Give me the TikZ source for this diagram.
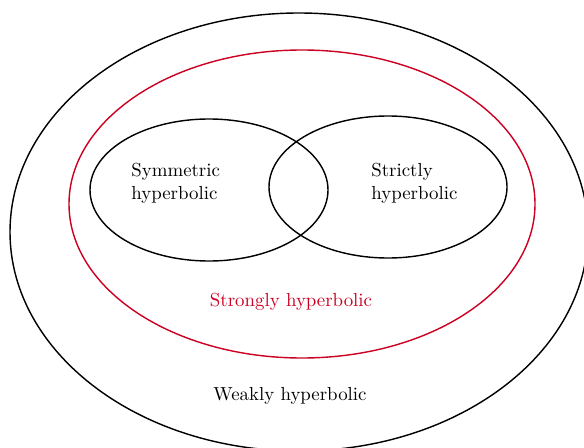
\documentclass[tikz,border=0pt]{standalone}
\begin{document}
\begin{tikzpicture}[x=0.53pt,y=-0.53pt,
  setline/.style={line width=0.75pt},
  lbl/.style={align=left,inner sep=0pt,font=\normalsize}]
\definecolor{strongred}{RGB}{204,0,34}
\useasboundingbox (0,0) rectangle (584,448);
\begin{scope}
\clip (0,0) rectangle (584,448);
\draw[setline] (299,232) ellipse [x radius=289, y radius=219];
\end{scope}
\draw[setline,strongred] (302,204) ellipse [x radius=233, y radius=154];
\draw[setline] (209,190) ellipse [x radius=119, y radius=71];
\draw[setline] (388,187) ellipse [x radius=119, y radius=71];
\node[lbl,anchor=west] (sym) at (131,183) {Symmetric\\hyperbolic};
\node[lbl,anchor=west] (str) at (371,183) {Strictly\\hyperbolic};
\node[lbl,text=strongred] (strong) at (291,302) {Strongly hyperbolic};
\node[lbl] (weaklbl) at (290,396) {Weakly hyperbolic};
\end{tikzpicture}
\end{document}
